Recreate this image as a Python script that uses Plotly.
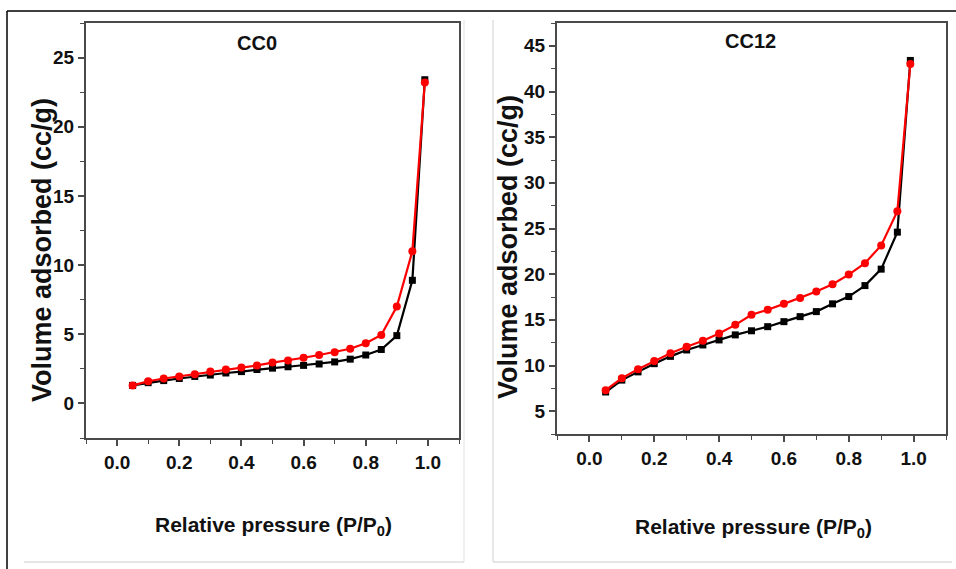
import plotly.graph_objects as go

# ---- data ----
pressure = [0.05, 0.10, 0.15, 0.20, 0.25, 0.30, 0.35, 0.40, 0.45, 0.50,
            0.55, 0.60, 0.65, 0.70, 0.75, 0.80, 0.85, 0.90, 0.95, 0.99]

cc0_ads = [1.3, 1.5, 1.65, 1.8, 1.95, 2.05, 2.2, 2.3, 2.45, 2.55,
           2.65, 2.75, 2.85, 3.0, 3.2, 3.5, 3.9, 4.9, 8.9, 23.4]
cc0_des = [1.3, 1.6, 1.8, 1.95, 2.1, 2.3, 2.45, 2.6, 2.75, 2.95,
           3.1, 3.3, 3.5, 3.7, 3.95, 4.35, 4.95, 7.0, 11.0, 23.2]

cc12_ads = [7.1, 8.4, 9.3, 10.2, 11.0, 11.7, 12.25, 12.8, 13.35, 13.8,
            14.25, 14.8, 15.35, 15.9, 16.75, 17.55, 18.75, 20.55, 24.6, 43.4]
cc12_des = [7.3, 8.6, 9.6, 10.5, 11.35, 12.05, 12.7, 13.5, 14.45, 15.55,
            16.1, 16.75, 17.4, 18.1, 18.9, 19.95, 21.2, 23.15, 26.9, 43.0]

panel_titles = ["CC0", "CC12"]
x_title = "Relative pressure (P/P<sub>0</sub>)"
y_title = "Volume adsorbed (cc/g)"
x_ticks = [0.0, 0.2, 0.4, 0.6, 0.8, 1.0]
x_ticklabels = ["0.0", "0.2", "0.4", "0.6", "0.8", "1.0"]

W, H = 956, 569
def px(x):
    return x / W
def py(y):
    return 1 - y / H

FONT = "Liberation Sans, Arial, sans-serif"
AX = "#4a4a4a"
TXT = "#111111"

fig = go.Figure()

def add_pair(ads, des, xa, ya):
    fig.add_trace(go.Scatter(x=pressure, y=ads, mode="lines+markers",
                             line=dict(color="black", width=2.2),
                             marker=dict(symbol="square", size=7, color="black"),
                             xaxis=xa, yaxis=ya, showlegend=False))
    fig.add_trace(go.Scatter(x=pressure, y=des, mode="lines+markers",
                             line=dict(color="#ff0000", width=2.2),
                             marker=dict(symbol="circle", size=8, color="#ff0000"),
                             xaxis=xa, yaxis=ya, showlegend=False))

add_pair(cc0_ads, cc0_des, "x", "y")
add_pair(cc12_ads, cc12_des, "x2", "y2")

tickfont = dict(family=FONT, size=19, color=TXT, weight="bold")

def xaxis(domain, anchor):
    return dict(domain=domain, anchor=anchor, range=[-0.1, 1.1],
                tickvals=x_ticks, ticktext=x_ticklabels,
                ticks="outside", ticklen=6, tickwidth=1.5, tickcolor=AX,
                minor=dict(ticks="outside", ticklen=4, dtick=0.1, tick0=0, tickcolor=AX, tickwidth=1.2),
                showline=True, linecolor=AX, linewidth=2, mirror=True,
                showgrid=False, zeroline=False, tickfont=tickfont)

def yaxis(domain, anchor, rng):
    return dict(domain=domain, anchor=anchor, range=rng, dtick=5, tick0=0,
                ticks="outside", ticklen=6, tickwidth=1.5, tickcolor=AX,
                minor=dict(ticks="outside", ticklen=4, dtick=2.5, tick0=0, tickcolor=AX, tickwidth=1.2),
                showline=True, linecolor=AX, linewidth=2, mirror=True,
                showgrid=False, zeroline=False, tickfont=tickfont)

fig.update_layout(
    width=W, height=H,
    margin=dict(l=0, r=0, t=0, b=0),
    paper_bgcolor="white", plot_bgcolor="white",
    xaxis=xaxis([px(86), px(459)], "y"),
    yaxis=yaxis([py(438), py(23)], "x", [-2.5, 27.5]),
    xaxis2=xaxis([px(557), px(946)], "y2"),
    yaxis2=yaxis([py(434), py(23)], "x2", [2.5, 47.5]),
)

ann = []
for (cx, cy), t in zip([(257, 43), (750, 41)], panel_titles):
    ann.append(dict(x=px(cx), y=py(cy), xref="paper", yref="paper", text="<b>" + t + "</b>",
                    xanchor="center", yanchor="middle",
                    showarrow=False, font=dict(family=FONT, size=20, color=TXT)))
for cx, cy in [(273, 526), (753, 528)]:
    ann.append(dict(x=px(cx), y=py(cy), xref="paper", yref="paper", text="<b>" + x_title + "</b>",
                    xanchor="center", yanchor="middle",
                    showarrow=False, font=dict(family=FONT, size=21, color=TXT)))
for cx, cy in [(42, 250), (508, 247)]:
    ann.append(dict(x=px(cx), y=py(cy), xref="paper", yref="paper", text="<b>" + y_title + "</b>",
                    xanchor="center", yanchor="middle",
                    textangle=-90, showarrow=False, font=dict(family=FONT, size=27, color=TXT)))
fig.update_layout(annotations=ann)

shapes = [
    dict(type="line", xref="paper", yref="paper", x0=px(7), x1=1, y0=py(11), y1=py(11),
         line=dict(color="black", width=1.5)),
    dict(type="line", xref="paper", yref="paper", x0=px(7), x1=px(7), y0=py(11), y1=0,
         line=dict(color="black", width=1.5)),
    dict(type="line", xref="paper", yref="paper", x0=px(24), x1=px(464), y0=py(562), y1=py(562),
         line=dict(color="#cccccc", width=1)),
    dict(type="line", xref="paper", yref="paper", x0=px(464), x1=px(464), y0=py(20), y1=py(562),
         line=dict(color="#e0e0e0", width=1)),
    dict(type="line", xref="paper", yref="paper", x0=px(493), x1=px(493), y0=py(20), y1=py(562),
         line=dict(color="#d0d0d0", width=1)),
    dict(type="line", xref="paper", yref="paper", x0=px(493), x1=px(952), y0=py(562), y1=py(562),
         line=dict(color="#cccccc", width=1)),
]
fig.update_layout(shapes=shapes)

fig.write_html("out.html", config={"displayModeBar": False},
               post_script="document.body.style.margin='0';document.body.style.padding='0';")
